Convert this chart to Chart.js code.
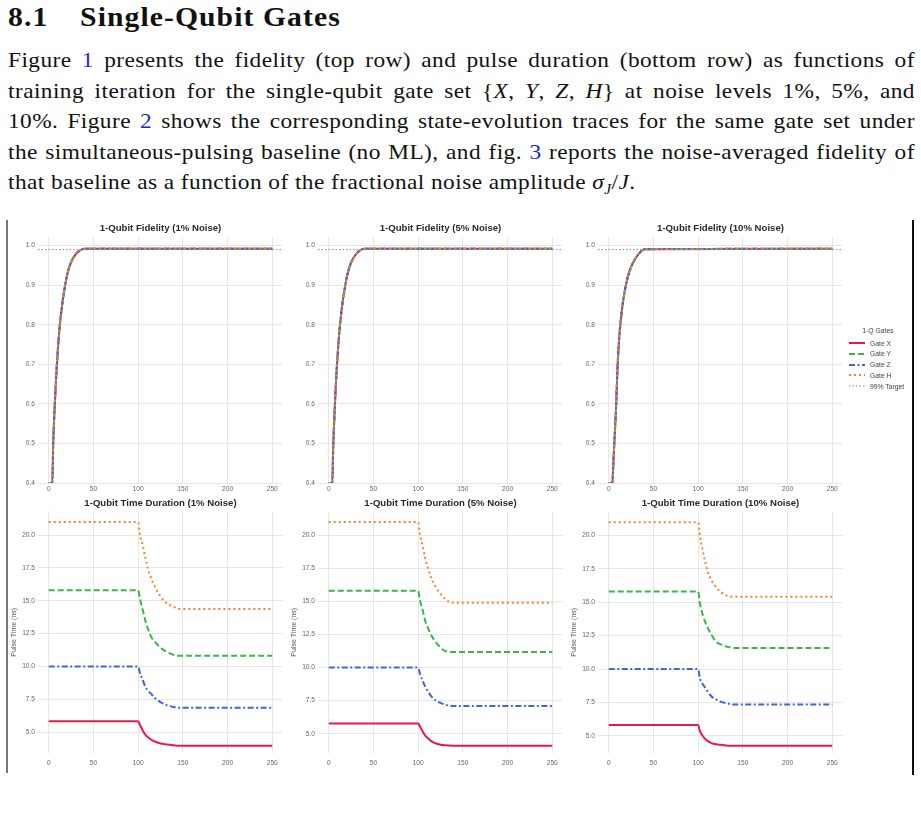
<!DOCTYPE html>
<html>
<head>
<meta charset="utf-8">
<script src="https://cdn.jsdelivr.net/npm/chart.js@4.4.1/dist/chart.umd.min.js"></script>
<style>
  html, body { margin: 0; padding: 0; background: #fff; }
  body { width: 921px; height: 834px; position: relative; overflow: hidden; color: #111; }
  .heading { position: absolute; left: 8px; top: 1px; font: bold 28px 'Liberation Serif', serif; line-height: 32px; letter-spacing: 1px; white-space: nowrap; transform: scaleX(1.06); transform-origin: 0 0; }
  .heading .num { display: inline-block; width: 68px; }
  .para { position: absolute; left: 8px; top: 45px; width: 817px; font: 21px 'Liberation Serif', serif; line-height: 30.5px; letter-spacing: 0.4px; transform: scaleX(1.11); transform-origin: 0 0; }
  .para div { text-align: justify; text-align-last: justify; white-space: nowrap; }
  .para div.last { text-align-last: left; }
  .para a { color: #1f1fd0; text-decoration: none; }
  .para sub { font-size: 14px; line-height: 0; }
  .frame { position: absolute; top: 220px; }
  .cv { position: absolute; }
  .legend { position: absolute; left: 846px; top: 327px; width: 64px; font: 6.8px 'Liberation Sans', sans-serif; color: #444; }
  .legend .ttl { position: absolute; left: 0; width: 64px; top: 0; text-align: center; }
  .legend .item { position: absolute; left: 3px; height: 10px; display: flex; align-items: center; white-space: nowrap; }
  .legend svg { margin-right: 5px; }
</style>
</head>
<body>
<div class="heading"><span class="num">8.1</span>Single-Qubit Gates</div>
<div class="para">
  <div>Figure <a>1</a> presents the fidelity (top row) and pulse duration (bottom row) as functions of</div>
  <div>training iteration for the single-qubit gate set {<i>X</i>, <i>Y</i>, <i>Z</i>, <i>H</i>} at noise levels 1%, 5%, and</div>
  <div>10%. Figure <a>2</a> shows the corresponding state-evolution traces for the same gate set under</div>
  <div>the simultaneous-pulsing baseline (no ML), and fig. <a>3</a> reports the noise-averaged fidelity of</div>
  <div class="last">that baseline as a function of the fractional noise amplitude <i>σ<sub>J</sub></i>/<i>J</i>.</div>
</div>

<div class="frame" style="left:6px;width:1.5px;height:553px;background:#777;"></div>
<div class="frame" style="left:912px;width:2px;height:555px;background:#111;"></div>

<canvas id="f1" class="cv"></canvas>
<canvas id="f5" class="cv"></canvas>
<canvas id="f10" class="cv"></canvas>
<canvas id="d1" class="cv"></canvas>
<canvas id="d5" class="cv"></canvas>
<canvas id="d10" class="cv"></canvas>
<div class="legend" id="legend"><div class="ttl">1-Q Gates</div></div>

<script>
// gates and styles
const gateNames = ['Gate X', 'Gate Y', 'Gate Z', 'Gate H'];
const gateColors = ['#e6194b', '#3cb44b', '#4363d8', '#f58231'];
const gateDash = [[], [6, 3], [6, 2.5, 2, 2.5], [2, 3]];
const noiseLabels = ['1%', '5%', '10%'];

const iterTicks = [0, 50, 100, 150, 200, 250];
const fidTicks = [0.4, 0.5, 0.6, 0.7, 0.8, 0.9, 1.0];
const durTicks = [5, 7.5, 10, 12.5, 15, 17.5, 20];

// fidelity vs iteration (all four gates overlap)
const fidIter = [0, 4, 5, 6, 8, 10, 12, 15, 18, 21, 25, 30, 35, 40, 250];
const fid1 = [0.40, 0.40, 0.50, 0.56, 0.655, 0.73, 0.79, 0.85, 0.895, 0.93, 0.958, 0.978, 0.988, 0.992, 0.992];
const fid5 = [0.40, 0.40, 0.49, 0.55, 0.65, 0.725, 0.785, 0.848, 0.893, 0.928, 0.957, 0.977, 0.988, 0.992, 0.992];
const fid10 = [0.40, 0.40, 0.44, 0.49, 0.58, 0.70, 0.775, 0.842, 0.886, 0.918, 0.946, 0.968, 0.983, 0.991, 0.992];
const targetLevel = 0.99;

// pulse duration vs iteration
const durIter = [0, 100, 102, 105, 108, 111, 115, 120, 125, 130, 135, 140, 145, 250];
const dur1X = [5.81, 5.81, 5.55, 5.14, 4.80, 4.60, 4.40, 4.24, 4.13, 4.07, 4.03, 3.99, 3.96, 3.96];
const dur1Y = [15.81, 15.81, 15.15, 14.33, 13.50, 12.85, 12.20, 11.77, 11.44, 11.18, 11.01, 10.87, 10.81, 10.81];
const dur1Z = [10.0, 10.0, 9.50, 9.00, 8.45, 8.15, 7.88, 7.51, 7.28, 7.11, 6.98, 6.90, 6.85, 6.85];
const dur1H = [21.0, 21.0, 20.0, 19.28, 18.30, 17.42, 16.63, 15.90, 15.33, 14.92, 14.69, 14.53, 14.38, 14.37];

const dur5X = [5.78, 5.78, 5.55, 5.18, 4.85, 4.65, 4.42, 4.26, 4.17, 4.12, 4.10, 4.09, 4.09, 4.09];
const dur5Y = [15.8, 15.8, 15.10, 14.35, 13.50, 13.00, 12.40, 11.90, 11.52, 11.27, 11.18, 11.17, 11.17, 11.17];
const dur5Z = [10.0, 10.0, 9.55, 9.00, 8.55, 8.20, 7.80, 7.50, 7.33, 7.20, 7.12, 7.09, 7.09, 7.09];
const dur5H = [21.0, 21.0, 20.10, 19.18, 18.25, 17.50, 16.72, 16.05, 15.58, 15.20, 14.95, 14.90, 14.90, 14.90];

const dur10X = [5.8, 5.8, 5.35, 5.00, 4.75, 4.60, 4.45, 4.36, 4.32, 4.29, 4.26, 4.25, 4.25, 4.25];
const dur10Y = [15.8, 15.8, 14.90, 14.10, 13.50, 13.05, 12.55, 12.05, 11.85, 11.72, 11.63, 11.58, 11.58, 11.58];
const dur10Z = [10.0, 10.0, 9.30, 8.88, 8.60, 8.27, 7.95, 7.72, 7.56, 7.45, 7.39, 7.34, 7.34, 7.34];
const dur10H = [21.0, 21.0, 19.95, 18.90, 18.00, 17.25, 16.65, 16.13, 15.80, 15.57, 15.44, 15.42, 15.42, 15.42];

const fidSeries = [fid1, fid5, fid10];
const durSeries = [
  [dur1X, dur1Y, dur1Z, dur1H],
  [dur5X, dur5Y, dur5Z, dur5H],
  [dur10X, dur10Y, dur10Z, dur10H],
];
const durMin = [3.40, 3.54, 3.71];

const X_MIN = -12, X_MAX = 262;
const tickFont = { family: "'Liberation Sans', sans-serif", size: 6.6 };

function pts(xs, ys) {
  return xs.map((x, i) => ({ x, y: ys[i] }));
}

function gateDataset(i, xs, ys) {
  return {
    label: gateNames[i],
    data: pts(xs, ys),
    borderColor: gateColors[i],
    borderDash: gateDash[i],
    borderWidth: 2,
    pointRadius: 0,
    cubicInterpolationMode: 'monotone',
    fill: false,
    order: 4 - i,
  };
}

function makeChart(id, col, top, title, datasets, yOpts, xPad, xAxisH) {
  const canvas = document.getElementById(id);
  canvas.width = 280;
  canvas.height = 274;
  canvas.style.left = (8 + col * 280) + 'px';
  canvas.style.top = top + 'px';
  canvas.style.width = '280px';
  canvas.style.height = '274px';

  return new Chart(canvas, {
    type: 'line',
    data: { datasets },
    options: {
      responsive: false,
      animation: false,
      devicePixelRatio: 1,
      layout: { padding: { left: 0, right: 5, top: 0, bottom: 0 } },
      plugins: {
        legend: { display: false },
        tooltip: { enabled: false },
        title: {
          display: true,
          fullSize: false,
          text: title,
          color: '#2a2a2a',
          font: { family: "'Liberation Sans', sans-serif", size: 9.6, weight: 'bold' },
          padding: { top: 3, bottom: 2 },
        },
      },
      scales: {
        x: {
          type: 'linear',
          min: X_MIN,
          max: X_MAX,
          afterBuildTicks: (s) => { s.ticks = iterTicks.map(v => ({ value: v })); },
          afterFit: (s) => { s.height = xAxisH; },
          grid: { color: '#e6e6e6', drawTicks: false },
          border: { display: false },
          ticks: { color: '#666', font: tickFont, padding: xPad, maxRotation: 0, autoSkip: false },
        },
        y: {
          min: yOpts.min,
          max: yOpts.max,
          afterBuildTicks: (s) => { s.ticks = yOpts.ticks.map(v => ({ value: v })); },
          afterFit: (s) => { s.width = 30; },
          grid: { color: '#e6e6e6', drawTicks: false },
          border: { display: false },
          ticks: { color: '#666', font: tickFont, padding: 3, callback: (v) => v.toFixed(1) },
          title: yOpts.title ? {
            display: true,
            text: yOpts.title,
            color: '#555',
            font: { family: "'Liberation Sans', sans-serif", size: 7 },
            padding: { top: 1.8, bottom: 0 },
          } : { display: false },
        },
      },
    },
  });
}

// top row: fidelity
['f1', 'f5', 'f10'].forEach((id, c) => {
  const ds = gateNames.map((_, i) => gateDataset(i, fidIter, fidSeries[c]));
  ds.push({
    label: '99% Target',
    data: [{ x: X_MIN, y: targetLevel }, { x: X_MAX, y: targetLevel }],
    borderColor: '#8a8a8a',
    borderDash: [1.5, 2],
    borderWidth: 1,
    pointRadius: 0,
    order: 0,
  });
  makeChart(id, c, 220, '1-Qubit Fidelity (' + noiseLabels[c] + ' Noise)', ds,
    { min: 0.4, max: 1.023, ticks: fidTicks }, 2.2, 11);
});

// bottom row: pulse duration
['d1', 'd5', 'd10'].forEach((id, c) => {
  const ds = gateNames.map((_, i) => gateDataset(i, durIter, durSeries[c][i]));
  makeChart(id, c, 495, '1-Qubit Time Duration (' + noiseLabels[c] + ' Noise)', ds,
    { min: durMin[c], max: 21.8, ticks: durTicks, title: 'Pulse Time (ns)' }, 6.7, 16);
});

// legend
const legend = document.getElementById('legend');
const legendItems = gateNames.map((n, i) => ({ name: n, color: gateColors[i], dash: gateDash[i], w: 2 }))
  .concat([{ name: '99% Target', color: '#8a8a8a', dash: [1.5, 2], w: 1 }]);
legendItems.forEach((it, i) => {
  const row = document.createElement('div');
  row.className = 'item';
  row.style.top = (11 + i * 10.75) + 'px';
  const dash = it.dash.length ? it.dash.join(',') : 'none';
  row.innerHTML = '<svg width="16" height="6"><line x1="0" y1="3" x2="16" y2="3" stroke="' + it.color +
    '" stroke-width="' + it.w + '" stroke-dasharray="' + dash + '"/></svg><span>' + it.name + '</span>';
  legend.appendChild(row);
});
</script>
</body>
</html>
